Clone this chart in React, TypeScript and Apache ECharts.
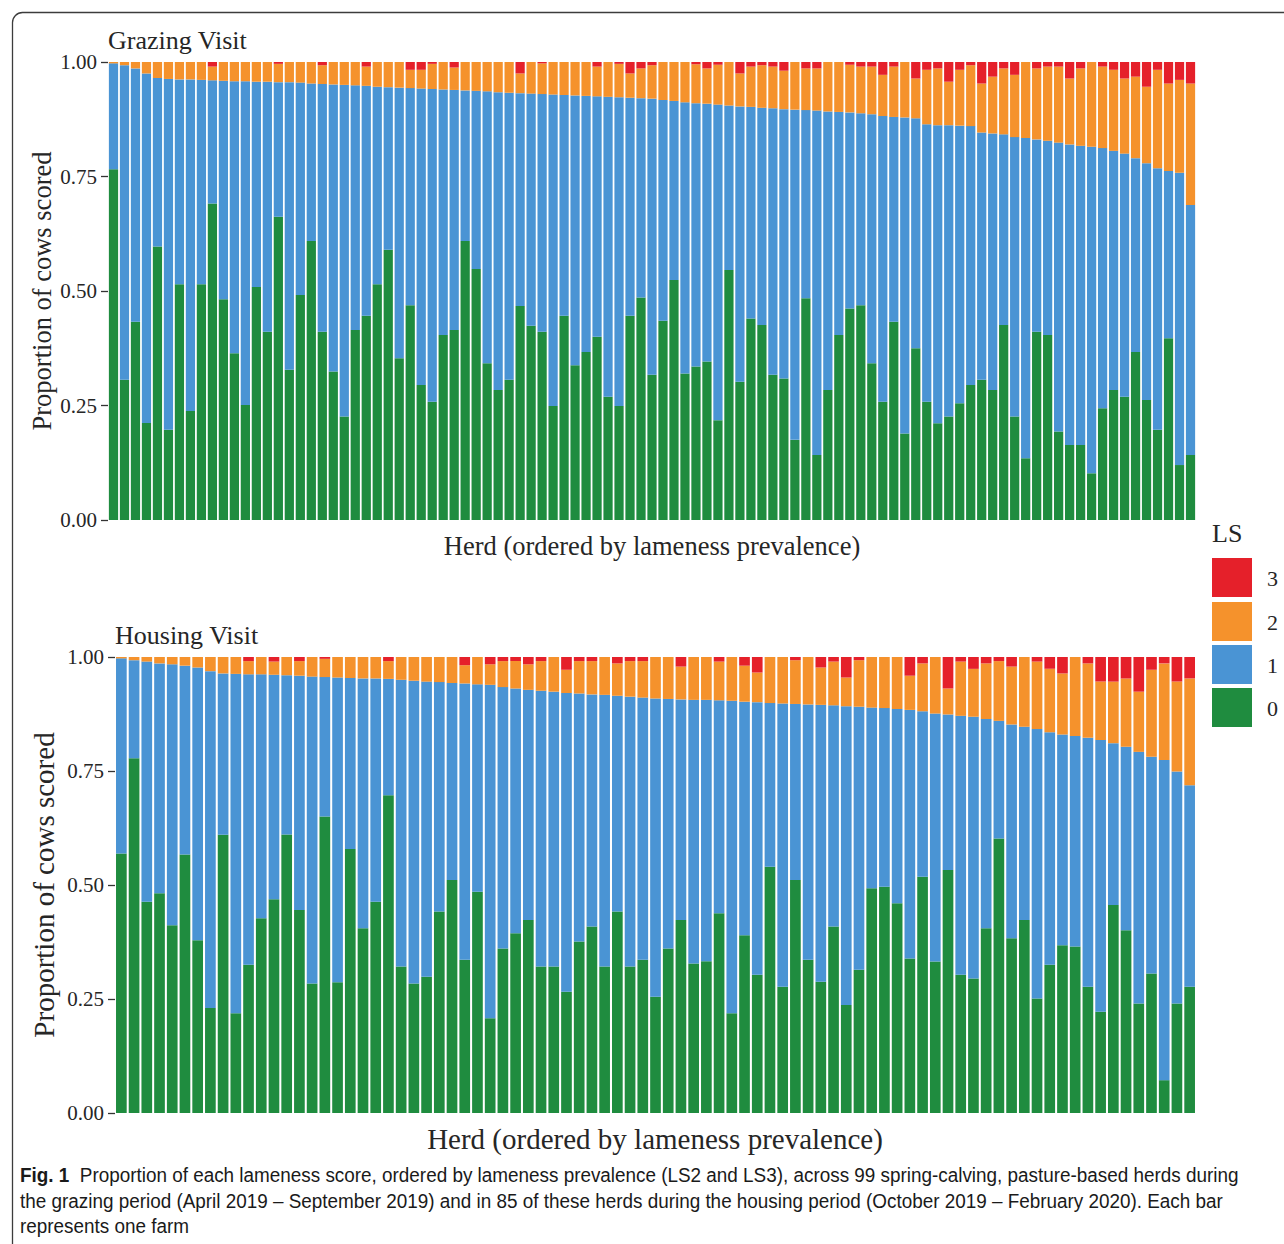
import React, { useEffect, useRef } from "react";
import * as echarts from "echarts";

// ---------- data ----------
const LS_NAMES = ["0", "1", "2", "3"];

// Grazing visit: 99 herds
const grazingLS0 = [
  0.766, 0.306, 0.433, 0.212, 0.597, 0.197, 0.515, 0.238, 0.515, 0.691,
  0.482, 0.364, 0.251, 0.509, 0.411, 0.662, 0.328, 0.491, 0.609, 0.411,
  0.324, 0.226, 0.415, 0.446, 0.515, 0.590, 0.353, 0.469, 0.295, 0.258,
  0.404, 0.415, 0.609, 0.548, 0.342, 0.284, 0.306, 0.467, 0.424, 0.411,
  0.249, 0.446, 0.338, 0.367, 0.400, 0.269, 0.249, 0.446, 0.486, 0.317,
  0.435, 0.524, 0.320, 0.335, 0.346, 0.218, 0.546, 0.302, 0.440, 0.426,
  0.317, 0.309, 0.175, 0.484, 0.142, 0.284, 0.404, 0.462, 0.469, 0.342,
  0.258, 0.433, 0.189, 0.375, 0.258, 0.211, 0.226, 0.255, 0.295, 0.306,
  0.284, 0.426, 0.226, 0.135, 0.411, 0.404, 0.193, 0.164, 0.164, 0.102,
  0.244, 0.284, 0.269, 0.367, 0.262, 0.197, 0.397, 0.120, 0.142,
];
// proportion LS0 + LS1 (not lame)
const grazingSound = [
  0.997, 0.993, 0.986, 0.975, 0.965, 0.963, 0.962, 0.962, 0.961, 0.960,
  0.959, 0.958, 0.958, 0.957, 0.957, 0.956, 0.956, 0.955, 0.953, 0.952,
  0.951, 0.950, 0.949, 0.948, 0.946, 0.945, 0.944, 0.943, 0.942, 0.941,
  0.940, 0.939, 0.938, 0.937, 0.936, 0.934, 0.933, 0.932, 0.931, 0.930,
  0.929, 0.928, 0.927, 0.926, 0.925, 0.924, 0.923, 0.922, 0.921, 0.920,
  0.917, 0.915, 0.912, 0.910, 0.909, 0.907, 0.905, 0.903, 0.902, 0.900,
  0.899, 0.897, 0.896, 0.895, 0.894, 0.892, 0.891, 0.890, 0.888, 0.886,
  0.882, 0.880, 0.879, 0.877, 0.864, 0.862, 0.862, 0.861, 0.860, 0.846,
  0.844, 0.842, 0.836, 0.834, 0.831, 0.828, 0.824, 0.820, 0.817, 0.815,
  0.812, 0.806, 0.800, 0.790, 0.779, 0.768, 0.762, 0.758, 0.688,
];
const grazingLS3 = [
  0, 0, 0, 0, 0, 0, 0, 0, 0, 0.010,
  0, 0, 0, 0, 0, 0.004, 0, 0, 0, 0.007,
  0, 0, 0, 0.010, 0, 0, 0, 0.017, 0.017, 0.004,
  0, 0.012, 0, 0, 0, 0, 0, 0.025, 0, 0.003,
  0, 0, 0, 0, 0.010, 0, 0.004, 0.025, 0.014, 0.007,
  0, 0, 0, 0.005, 0.014, 0.006, 0, 0.025, 0.010, 0.007,
  0.010, 0.019, 0, 0.014, 0.014, 0, 0, 0.006, 0.010, 0.010,
  0.028, 0.010, 0, 0.036, 0.017, 0.014, 0.043, 0.017, 0.007, 0.047,
  0.032, 0.014, 0.028, 0, 0.014, 0.010, 0.010, 0.036, 0.014, 0,
  0.010, 0.017, 0.036, 0.032, 0.054, 0.017, 0.047, 0.039, 0.047,
];

// Housing visit: 85 herds
const housingLS0 = [
  0.569, 0.778, 0.463, 0.482, 0.412, 0.567, 0.379, 0.230, 0.610, 0.219,
  0.325, 0.427, 0.469, 0.611, 0.445, 0.284, 0.650, 0.287, 0.579, 0.405,
  0.463, 0.697, 0.321, 0.284, 0.299, 0.442, 0.511, 0.336, 0.485, 0.208,
  0.361, 0.394, 0.423, 0.321, 0.321, 0.266, 0.376, 0.409, 0.321, 0.442,
  0.321, 0.336, 0.255, 0.361, 0.423, 0.328, 0.333, 0.438, 0.219, 0.390,
  0.303, 0.540, 0.277, 0.511, 0.336, 0.288, 0.409, 0.237, 0.314, 0.493,
  0.496, 0.460, 0.339, 0.518, 0.332, 0.533, 0.303, 0.295, 0.405, 0.602,
  0.383, 0.423, 0.251, 0.325, 0.368, 0.365, 0.277, 0.222, 0.456, 0.401,
  0.240, 0.306, 0.072, 0.240, 0.277,
];
const housingSound = [
  0.997, 0.993, 0.990, 0.986, 0.984, 0.981, 0.977, 0.969, 0.964, 0.963,
  0.962, 0.962, 0.961, 0.960, 0.959, 0.957, 0.956, 0.955, 0.954, 0.953,
  0.953, 0.952, 0.950, 0.948, 0.946, 0.945, 0.943, 0.942, 0.940, 0.939,
  0.934, 0.931, 0.928, 0.926, 0.924, 0.921, 0.920, 0.918, 0.917, 0.915,
  0.913, 0.911, 0.909, 0.908, 0.907, 0.906, 0.906, 0.905, 0.904, 0.902,
  0.901, 0.899, 0.898, 0.897, 0.896, 0.895, 0.894, 0.892, 0.891, 0.889,
  0.888, 0.886, 0.884, 0.881, 0.876, 0.874, 0.871, 0.869, 0.864, 0.860,
  0.852, 0.847, 0.842, 0.835, 0.830, 0.827, 0.823, 0.818, 0.811, 0.803,
  0.792, 0.781, 0.774, 0.749, 0.719,
];
const housingLS3 = [
  0, 0, 0, 0, 0, 0, 0, 0, 0, 0,
  0.009, 0, 0.010, 0, 0.009, 0, 0.004, 0, 0, 0,
  0, 0.009, 0, 0, 0, 0, 0, 0.018, 0, 0.016,
  0.009, 0.009, 0.016, 0.009, 0, 0.028, 0.009, 0.009, 0, 0.014,
  0.009, 0.009, 0, 0, 0.021, 0, 0, 0.010, 0, 0.019,
  0.034, 0, 0, 0.007, 0, 0.023, 0.010, 0.045, 0.007, 0,
  0, 0, 0.041, 0.014, 0, 0.069, 0.010, 0.026, 0.014, 0.009,
  0.021, 0, 0.010, 0.026, 0.036, 0, 0.014, 0.054, 0.054, 0.047,
  0.076, 0.028, 0.014, 0.054, 0.047,
];

const yTicks = [0, 0.25, 0.5, 0.75, 1];

const COLORS: Record<string, string> = {
  "0": "#1F8C3F",
  "1": "#4A94D4",
  "2": "#F5922C",
  "3": "#E5202A",
};

const SERIF = "'Liberation Serif', 'DejaVu Serif', serif";
const SANS = "'Liberation Sans', Arial, sans-serif";

function buildSeries(ls0: number[], sound: number[], ls3: number[], idx: number, stack: string) {
  const ls1 = sound.map((s, i) => +(s - ls0[i]).toFixed(3));
  const ls2 = sound.map((s, i) => +(1 - s - ls3[i]).toFixed(3));
  const cols = [ls0, ls1, ls2, ls3];
  return LS_NAMES.map((name, k) => ({
    name,
    type: "bar",
    stack,
    xAxisIndex: idx,
    yAxisIndex: idx,
    data: cols[k],
    barCategoryGap: "16%",
    itemStyle: { color: COLORS[name] },
    emphasis: { disabled: true },
  }));
}

function yAxisCfg(gridIndex: number, fontSize: number) {
  return {
    type: "value",
    gridIndex,
    min: 0,
    max: 1,
    interval: 0.25,
    splitLine: { show: false },
    axisLine: { show: false },
    axisTick: { show: true, length: 7, lineStyle: { color: "#333", width: 1.3 } },
    axisLabel: {
      formatter: (v: number) => (yTicks.includes(v) ? v.toFixed(2) : ""),
      fontFamily: SERIF,
      fontSize,
      color: "#262626",
      margin: 11,
    },
  };
}

function xAxisCfg(gridIndex: number, n: number) {
  return {
    type: "category",
    gridIndex,
    data: Array.from({ length: n }, (_, i) => String(i + 1)),
    axisLine: { show: false },
    axisTick: { show: false },
    axisLabel: { show: false },
    splitLine: { show: false },
  };
}

function text(x: number, y: number, str: string, size: number, extra: any = {}) {
  return {
    type: "text",
    x,
    y,
    silent: true,
    ...extra,
    style: {
      text: str,
      fontFamily: SERIF,
      fontSize: size,
      fill: "#262626",
      textAlign: "left",
      textVerticalAlign: "middle",
      ...(extra.style || {}),
    },
  };
}

function caption(y: number, str: string, rich?: any) {
  return {
    type: "text",
    x: 20,
    y,
    scaleX: 0.945,
    silent: true,
    style: {
      text: str,
      fontFamily: SANS,
      fontSize: 20,
      fill: "#1a1a1a",
      textAlign: "left",
      textVerticalAlign: "middle",
      ...(rich ? { rich } : {}),
    },
  };
}

export default function App() {
  const ref = useRef<HTMLDivElement>(null);

  useEffect(() => {
    document.body.style.margin = "0";
    const chart = echarts.init(ref.current!, null, { renderer: "svg" });

    const legendItems = ["3", "2", "1", "0"];
    const legendGraphics: any[] = [];
    const legendTops = [558, 602, 645, 688];
    legendItems.forEach((nm, i) => {
      legendGraphics.push({
        type: "rect",
        shape: { x: 1212, y: legendTops[i], width: 40, height: 39 },
        style: { fill: COLORS[nm] },
        silent: true,
      });
      legendGraphics.push(text(1267, legendTops[i] + 20, nm, 22));
    });

    const option: any = {
      animation: false,
      backgroundColor: "#ffffff",
      grid: [
        { left: 108, top: 62, width: 1088, height: 458, containLabel: false },
        { left: 115, top: 657, width: 1081, height: 456, containLabel: false },
      ],
      xAxis: [xAxisCfg(0, grazingLS0.length), xAxisCfg(1, housingLS0.length)],
      yAxis: [yAxisCfg(0, 21), yAxisCfg(1, 21)],
      series: [
        ...buildSeries(grazingLS0, grazingSound, grazingLS3, 0, "grazing"),
        ...buildSeries(housingLS0, housingSound, housingLS3, 1, "housing"),
      ],
      graphic: [
        {
          type: "rect",
          shape: { x: 12.5, y: 12.5, width: 1320, height: 1320, r: 10 },
          style: { fill: "none", stroke: "#3c3c3c", lineWidth: 1.3 },
          silent: true,
        },
        text(108, 40, "Grazing Visit", 26),
        text(115, 635, "Housing Visit", 26),
        text(652, 546, "Herd (ordered by lameness prevalence)", 26.5, { style: { textAlign: "center" } }),
        text(655, 1139, "Herd (ordered by lameness prevalence)", 29, { style: { textAlign: "center" } }),
        text(42, 291, "Proportion of cows scored", 26.5, { rotation: Math.PI / 2, style: { textAlign: "center" } }),
        text(44, 885, "Proportion of cows scored", 29, { rotation: Math.PI / 2, style: { textAlign: "center" } }),
        text(1212, 533, "LS", 26),
        ...legendGraphics,
        caption(
          1175,
          "{b|Fig. 1}  Proportion of each lameness score, ordered by lameness prevalence (LS2 and LS3), across 99 spring-calving, pasture-based herds during",
          { b: { fontWeight: "bold", fontFamily: SANS, fontSize: 20, fill: "#1a1a1a" } }
        ),
        caption(
          1201,
          "the grazing period (April 2019 \u2013 September 2019) and in 85 of these herds during the housing period (October 2019 \u2013 February 2020). Each bar"
        ),
        caption(1226, "represents one farm"),
      ],
    };

    chart.setOption(option);
    return () => chart.dispose();
  }, []);

  return (
    <div
      ref={ref}
      style={{ position: "absolute", left: 0, top: 0, width: 1284, height: 1244, background: "#fff" }}
    />
  );
}
